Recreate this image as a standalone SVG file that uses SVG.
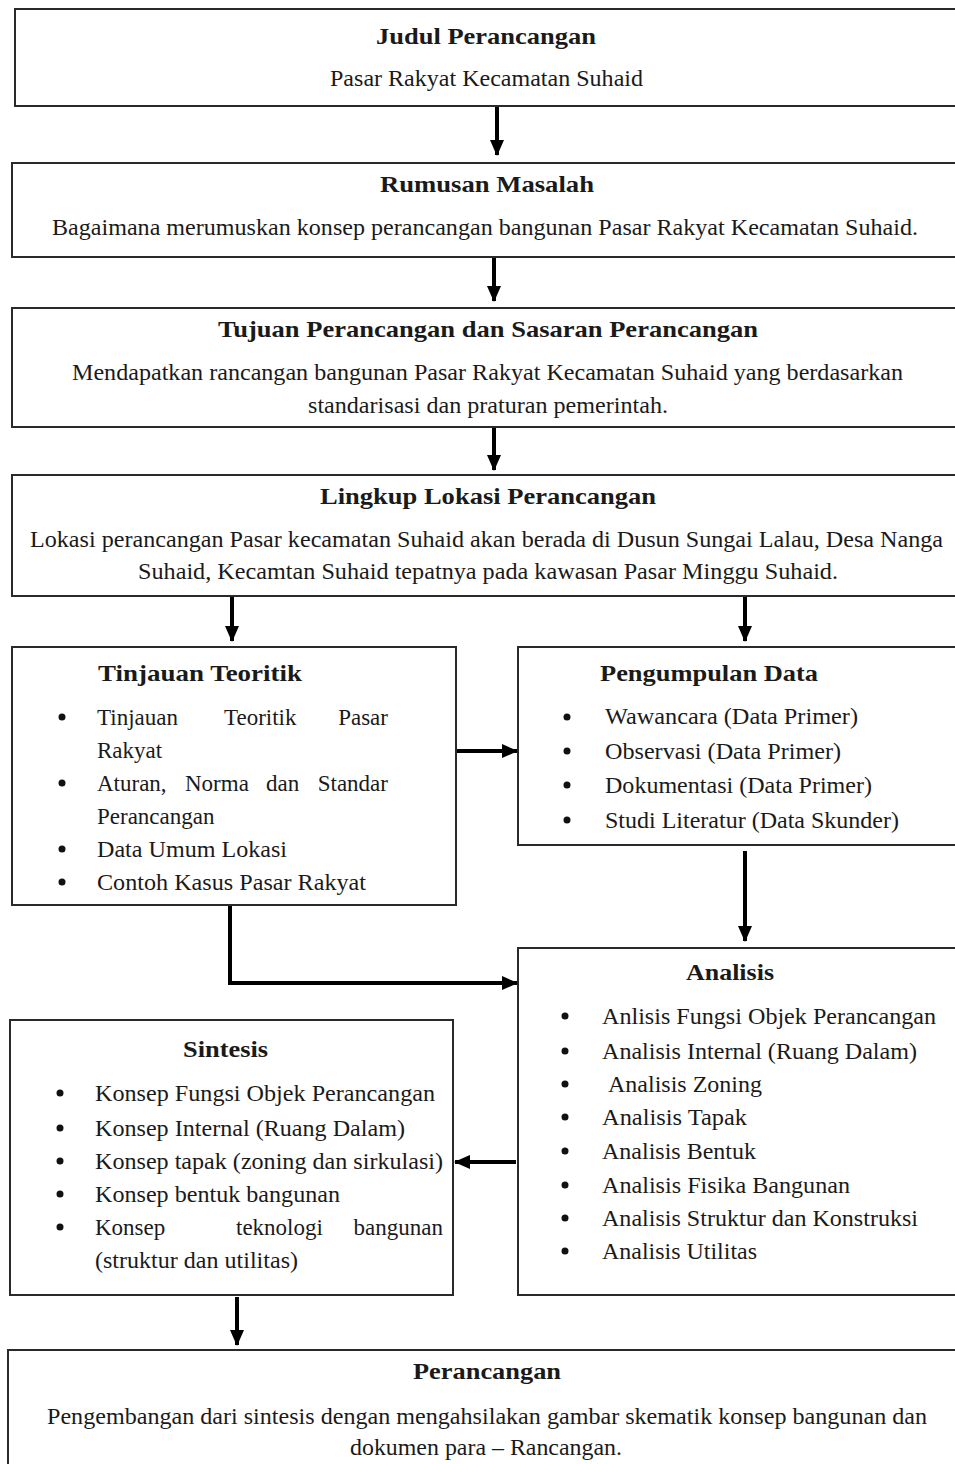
<svg xmlns="http://www.w3.org/2000/svg" width="955" height="1464" viewBox="0 0 955 1464">
<style>
.box{fill:#fff;stroke:#2a2a2a;stroke-width:2}
text{font-family:"Liberation Serif","Times New Roman",serif;font-size:23px;fill:#1a1a1a}
.t{font-weight:bold}
.c{text-anchor:middle}
.con{fill:none;stroke:#000;stroke-width:4}
</style>
<defs>
<marker id="ah" markerUnits="userSpaceOnUse" markerWidth="16" markerHeight="14" refX="15" refY="7" orient="auto">
<path d="M0,0 L16,7 L0,14 z" fill="#000"/>
</marker>
<circle id="b" r="3.5" fill="#111"/>
</defs>
<rect width="955" height="1464" fill="#fff"/>

<g id="judul">
<rect class="box" x="15" y="9" width="960" height="97"/>
<text class="t" x="376" y="44" textLength="220" lengthAdjust="spacingAndGlyphs">Judul Perancangan</text>
<text x="330" y="86" textLength="313" lengthAdjust="spacingAndGlyphs">Pasar Rakyat Kecamatan Suhaid</text>
</g>

<g id="rumusan">
<rect class="box" x="12" y="163" width="960" height="94"/>
<text class="t" x="380" y="192" textLength="214" lengthAdjust="spacingAndGlyphs">Rumusan Masalah</text>
<text x="52" y="235" textLength="866" lengthAdjust="spacingAndGlyphs">Bagaimana merumuskan konsep perancangan bangunan Pasar Rakyat Kecamatan Suhaid.</text>
</g>

<g id="tujuan">
<rect class="box" x="12" y="308" width="960" height="119"/>
<text class="t" x="218" y="337" textLength="540" lengthAdjust="spacingAndGlyphs">Tujuan Perancangan dan Sasaran Perancangan</text>
<text x="72" y="380" textLength="831" lengthAdjust="spacingAndGlyphs">Mendapatkan rancangan bangunan Pasar Rakyat Kecamatan Suhaid yang berdasarkan</text>
<text x="308" y="413" textLength="360" lengthAdjust="spacingAndGlyphs">standarisasi dan praturan pemerintah.</text>
</g>

<g id="lingkup">
<rect class="box" x="12" y="475" width="960" height="121"/>
<text class="t" x="320" y="504" textLength="336" lengthAdjust="spacingAndGlyphs">Lingkup Lokasi Perancangan</text>
<text x="30" y="547" textLength="913" lengthAdjust="spacingAndGlyphs">Lokasi perancangan Pasar kecamatan Suhaid akan berada di Dusun Sungai Lalau, Desa Nanga</text>
<text x="138" y="579" textLength="700" lengthAdjust="spacingAndGlyphs">Suhaid, Kecamtan Suhaid tepatnya pada kawasan Pasar Minggu Suhaid.</text>
</g>

<g id="tinjauan">
<rect class="box" x="12" y="647" width="444" height="258"/>
<text class="t" x="98" y="681" textLength="204" lengthAdjust="spacingAndGlyphs">Tinjauan Teoritik</text>
<use href="#b" x="62" y="717"/>
<text x="97" y="725">Tinjauan</text>
<text x="224" y="725">Teoritik</text>
<text x="388" y="725" text-anchor="end">Pasar</text>
<text x="97" y="758">Rakyat</text>
<use href="#b" x="62" y="783"/>
<text x="97" y="791">Aturan,</text>
<text x="185" y="791">Norma</text>
<text x="266" y="791">dan</text>
<text x="388" y="791" text-anchor="end">Standar</text>
<text x="97" y="824">Perancangan</text>
<use href="#b" x="62" y="849"/>
<text x="97" y="857" textLength="190" lengthAdjust="spacingAndGlyphs">Data Umum Lokasi</text>
<use href="#b" x="62" y="882"/>
<text x="97" y="890" textLength="269" lengthAdjust="spacingAndGlyphs">Contoh Kasus Pasar Rakyat</text>
</g>

<g id="pengumpulan">
<rect class="box" x="518" y="647" width="460" height="198"/>
<text class="t" x="600" y="681" textLength="218" lengthAdjust="spacingAndGlyphs">Pengumpulan Data</text>
<use href="#b" x="567" y="717"/>
<text x="605" y="724" textLength="253" lengthAdjust="spacingAndGlyphs">Wawancara (Data Primer)</text>
<use href="#b" x="567" y="751"/>
<text x="605" y="759" textLength="236" lengthAdjust="spacingAndGlyphs">Observasi (Data Primer)</text>
<use href="#b" x="567" y="785"/>
<text x="605" y="793" textLength="267" lengthAdjust="spacingAndGlyphs">Dokumentasi (Data Primer)</text>
<use href="#b" x="567" y="820"/>
<text x="605" y="828" textLength="294" lengthAdjust="spacingAndGlyphs">Studi Literatur (Data Skunder)</text>
</g>

<g id="analisis">
<rect class="box" x="518" y="948" width="460" height="347"/>
<text class="t" x="686" y="980" textLength="88" lengthAdjust="spacingAndGlyphs">Analisis</text>
<use href="#b" x="565" y="1016"/>
<text x="602" y="1024" textLength="334" lengthAdjust="spacingAndGlyphs">Anlisis Fungsi Objek Perancangan</text>
<use href="#b" x="565" y="1051"/>
<text x="602" y="1059" textLength="315" lengthAdjust="spacingAndGlyphs">Analisis Internal (Ruang Dalam)</text>
<use href="#b" x="565" y="1084"/>
<text x="608" y="1092" textLength="154" lengthAdjust="spacingAndGlyphs">Analisis Zoning</text>
<use href="#b" x="565" y="1117"/>
<text x="602" y="1125" textLength="145" lengthAdjust="spacingAndGlyphs">Analisis Tapak</text>
<use href="#b" x="565" y="1151"/>
<text x="602" y="1159" textLength="154" lengthAdjust="spacingAndGlyphs">Analisis Bentuk</text>
<use href="#b" x="565" y="1185"/>
<text x="602" y="1193" textLength="248" lengthAdjust="spacingAndGlyphs">Analisis Fisika Bangunan</text>
<use href="#b" x="565" y="1218"/>
<text x="602" y="1226" textLength="316" lengthAdjust="spacingAndGlyphs">Analisis Struktur dan Konstruksi</text>
<use href="#b" x="565" y="1251"/>
<text x="602" y="1259" textLength="155" lengthAdjust="spacingAndGlyphs">Analisis Utilitas</text>
</g>

<g id="sintesis">
<rect class="box" x="10" y="1020" width="443" height="275"/>
<text class="t" x="183" y="1057" textLength="85" lengthAdjust="spacingAndGlyphs">Sintesis</text>
<use href="#b" x="60" y="1093"/>
<text x="95" y="1101" textLength="340" lengthAdjust="spacingAndGlyphs">Konsep Fungsi Objek Perancangan</text>
<use href="#b" x="60" y="1128"/>
<text x="95" y="1136" textLength="310" lengthAdjust="spacingAndGlyphs">Konsep Internal (Ruang Dalam)</text>
<use href="#b" x="60" y="1161"/>
<text x="95" y="1169" textLength="348" lengthAdjust="spacingAndGlyphs">Konsep tapak (zoning dan sirkulasi)</text>
<use href="#b" x="60" y="1194"/>
<text x="95" y="1202" textLength="245" lengthAdjust="spacingAndGlyphs">Konsep bentuk bangunan</text>
<use href="#b" x="60" y="1227"/>
<text x="95" y="1235">Konsep</text>
<text x="236" y="1235">teknologi</text>
<text x="443" y="1235" text-anchor="end">bangunan</text>
<text x="95" y="1268" textLength="203" lengthAdjust="spacingAndGlyphs">(struktur dan utilitas)</text>
</g>

<g id="perancangan">
<rect class="box" x="8" y="1350" width="970" height="130"/>
<text class="t" x="413" y="1379" textLength="148" lengthAdjust="spacingAndGlyphs">Perancangan</text>
<text x="47" y="1424" textLength="880" lengthAdjust="spacingAndGlyphs">Pengembangan dari sintesis dengan mengahsilakan gambar skematik konsep bangunan dan</text>
<text x="350" y="1455" textLength="272" lengthAdjust="spacingAndGlyphs">dokumen para – Rancangan.</text>
</g>

<g id="connectors">
<line class="con" x1="497" y1="107" x2="497" y2="155" marker-end="url(#ah)"/>
<line class="con" x1="494" y1="258" x2="494" y2="301" marker-end="url(#ah)"/>
<line class="con" x1="494" y1="428" x2="494" y2="470" marker-end="url(#ah)"/>
<line class="con" x1="232" y1="597" x2="232" y2="641" marker-end="url(#ah)"/>
<line class="con" x1="745" y1="597" x2="745" y2="641" marker-end="url(#ah)"/>
<line class="con" x1="457" y1="751" x2="517" y2="751" marker-end="url(#ah)"/>
<line class="con" x1="745" y1="851" x2="745" y2="941" marker-end="url(#ah)"/>
<polyline class="con" points="230,906 230,983 517,983" marker-end="url(#ah)"/>
<line class="con" x1="516" y1="1162" x2="455" y2="1162" marker-end="url(#ah)"/>
<line class="con" x1="237" y1="1297" x2="237" y2="1345" marker-end="url(#ah)"/>
</g>
</svg>
